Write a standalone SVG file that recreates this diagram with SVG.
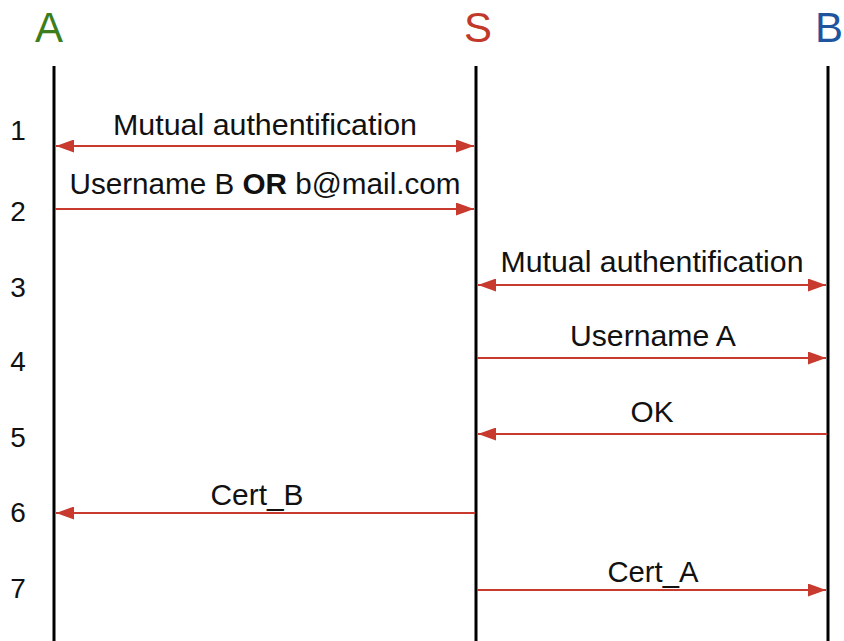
<svg xmlns="http://www.w3.org/2000/svg" width="844" height="641" viewBox="0 0 844 641">
<style>
.hdr{font-family:"Liberation Sans",Arial,sans-serif;font-size:42px;text-anchor:middle}
.num{font-family:"Liberation Sans",Arial,sans-serif;font-size:28px;text-anchor:middle;fill:#111}
.lbl{font-family:"Liberation Sans",Arial,sans-serif;font-size:29px;text-anchor:middle;fill:#111}
.life{stroke:#000;stroke-width:3;fill:none}
.msg{stroke:#c8392e;stroke-width:2;fill:none}
</style>
<defs>
<marker id="ah" markerUnits="userSpaceOnUse" markerWidth="18" markerHeight="13" refX="18" refY="6.5" orient="auto-start-reverse">
<path d="M0,0 L18,6.5 L0,13 z" fill="#c8392e"/>
</marker>
</defs>
<rect width="844" height="641" fill="#fff"/>
<g id="A">
<text class="hdr" x="49" y="42" fill="#3c7d1c">A</text>
<line class="life" x1="54" y1="66" x2="54" y2="641"/>
</g>
<g id="S">
<text class="hdr" x="478" y="42" fill="#c0392b">S</text>
<line class="life" x1="476" y1="66" x2="476" y2="641"/>
</g>
<g id="B">
<text class="hdr" x="829" y="42" fill="#1e559e">B</text>
<line class="life" x1="828" y1="66" x2="828" y2="641"/>
</g>
<g id="steps">
<text class="num" x="18" y="140">1</text>
<text class="num" x="18" y="221">2</text>
<text class="num" x="18" y="297">3</text>
<text class="num" x="18" y="371">4</text>
<text class="num" x="18" y="447">5</text>
<text class="num" x="18" y="522">6</text>
<text class="num" x="18" y="598">7</text>
</g>
<g id="connectors">
<line class="msg" x1="56" y1="146" x2="474" y2="146" marker-start="url(#ah)" marker-end="url(#ah)"/>
<line class="msg" x1="55" y1="209" x2="474" y2="209" marker-end="url(#ah)"/>
<line class="msg" x1="478" y1="285" x2="826" y2="285" marker-start="url(#ah)" marker-end="url(#ah)"/>
<line class="msg" x1="477" y1="358" x2="826" y2="358" marker-end="url(#ah)"/>
<line class="msg" x1="827" y1="434" x2="478" y2="434" marker-end="url(#ah)"/>
<line class="msg" x1="475" y1="513" x2="56" y2="513" marker-end="url(#ah)"/>
<line class="msg" x1="477" y1="590" x2="826" y2="590" marker-end="url(#ah)"/>
</g>
<g id="labels">
<text class="lbl" x="265" y="135" textLength="304" lengthAdjust="spacingAndGlyphs">Mutual authentification</text>
<text class="lbl" x="265" y="194" textLength="391" lengthAdjust="spacingAndGlyphs">Username B <tspan font-weight="bold">OR</tspan> b@mail.com</text>
<text class="lbl" x="652" y="272" textLength="303" lengthAdjust="spacingAndGlyphs">Mutual authentification</text>
<text class="lbl" x="653" y="346" textLength="166" lengthAdjust="spacingAndGlyphs">Username A</text>
<text class="lbl" x="652" y="422" textLength="43" lengthAdjust="spacingAndGlyphs">OK</text>
<text class="lbl" x="257" y="505" textLength="93" lengthAdjust="spacingAndGlyphs">Cert_B</text>
<text class="lbl" x="653" y="582" textLength="91" lengthAdjust="spacingAndGlyphs">Cert_A</text>
</g>
</svg>
